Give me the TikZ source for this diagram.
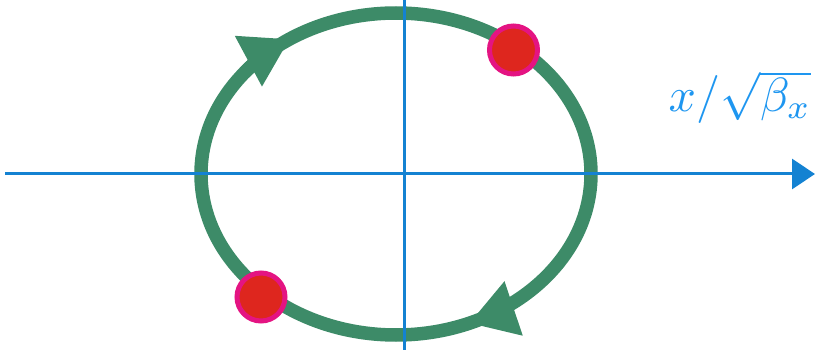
\documentclass[tikz,border=0pt]{standalone}
\usepackage{graphicx}
\usetikzlibrary{arrows.meta}
\definecolor{orbit}{RGB}{61,139,104}
\definecolor{axiscol}{RGB}{20,130,210}
\definecolor{lbl}{RGB}{30,150,240}
\definecolor{ring}{RGB}{228,20,130}
\definecolor{dotred}{RGB}{222,38,30}
\begin{document}
\begin{tikzpicture}[x=1pt,y=-1pt,
  orbitline/.style={draw=orbit,line width=13.5pt},
  axisline/.style={draw=axiscol,line width=3pt},
  particle/.style={circle,fill=dotred,draw=ring,line width=5pt,minimum size=48pt,inner sep=0pt},
  orbitarrow/.style={draw=orbit,line width=13.5pt,-{Triangle[length=47pt,width=54pt]}}]
\useasboundingbox (0,0) rectangle (815,350);
\coordinate (O) at (396,174);
\draw[orbitline] (O) ellipse [x radius=195, y radius=161];
\draw[orbitarrow] (O) ++(-141:195 and 161) arc[start angle=-141,end angle=-123,x radius=195,y radius=161];
\draw[orbitarrow] (O) ++(56:195 and 161) arc[start angle=56,end angle=68,x radius=195,y radius=161];
\coordinate (L) at (5,174);
\coordinate (R) at (815,174);
\coordinate (T) at (404.5,0);
\coordinate (B) at (404.5,350);
\draw[axisline,-{Triangle[length=23pt,width=30pt]}] (L) -- (R);
\draw[axisline] (T) -- (B);
\node[particle] (p1) at (513.5,50) {};
\node[particle] (p2) at (261,297) {};
\node[text=lbl,inner sep=0pt] (lab) at (740,97) {\scalebox{4.8}{$x/\sqrt{\beta_x}$}};
\end{tikzpicture}
\end{document}
